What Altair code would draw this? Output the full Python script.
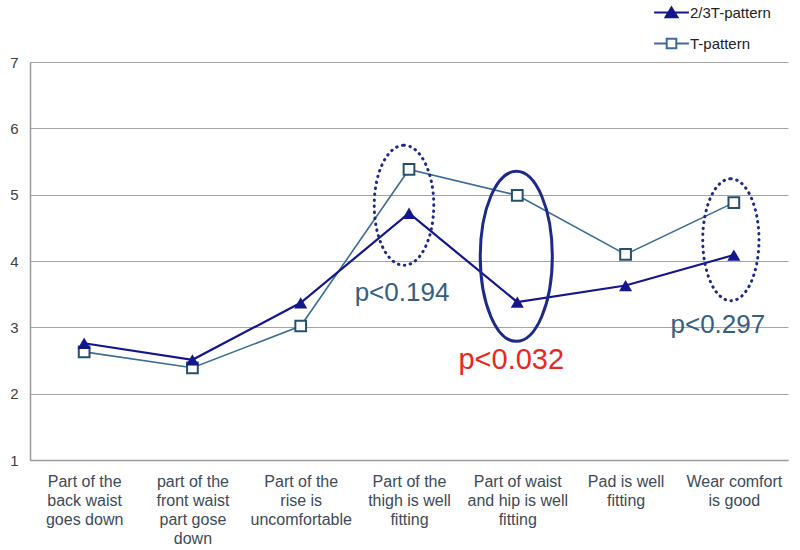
import altair as alt
import pandas as pd

# ---------------- data ----------------
categories = [
    "Part of the|back waist|goes down",
    "part of the|front waist|part gose|down",
    "Part of the|rise is|uncomfortable",
    "Part of the|thigh is well|fitting",
    "Part of waist|and hip is well|fitting",
    "Pad is well|fitting",
    "Wear comfort|is good",
]
series_names = ["2/3T-pattern", "T-pattern"]
t23_values = [2.76, 2.51, 3.37, 4.72, 3.38, 3.63, 4.09]
t_values = [2.63, 2.39, 3.02, 5.38, 4.99, 4.10, 4.88]
y_ticks = [1, 2, 3, 4, 5, 6, 7]

annot_labels = ["p<0.194", "p<0.032", "p<0.297"]
annot_cats = [categories[3], categories[4], categories[6]]
annot_values = [3.52, 2.51, 3.04]
ellipse_values = [4.84, 4.07, 4.32]

df = pd.DataFrame({
    "category": categories * 2,
    "value": t23_values + t_values,
    "series": [series_names[0]] * len(categories) + [series_names[1]] * len(categories),
})

# ---------------- styles ----------------
NAVY = "#14168C"
STEEL = "#3A6C96"
SQ_STROKE = "#24506F"
ELL = "#1E2A8A"
FONT = "Liberation Sans"

x_enc = alt.X(
    "category:N", sort=categories,
    scale=alt.Scale(type="point", padding=0.5),
    axis=alt.Axis(
        title=None, labelExpr="split(datum.label, '|')", labelAngle=0,
        labelFont=FONT, labelFontSize=16, labelLineHeight=19, labelColor="#3C4A5A",
        labelPadding=13, ticks=False, domainColor="#9A9A9A", domainWidth=1.5,
        grid=False, labelLimit=200,
    ),
)
y_enc = alt.Y(
    "value:Q", scale=alt.Scale(domain=[1, 7], nice=False, zero=False),
    axis=alt.Axis(
        title=None, values=y_ticks, labelFont=FONT, labelFontSize=15,
        labelColor="#404040", labelPadding=12, ticks=False,
        domainColor="#9A9A9A", domainWidth=1.5,
        grid=True, gridColor="#A3A3A3", gridWidth=1.2,
    ),
)

is_t23 = alt.datum.series == series_names[0]
is_t = alt.datum.series == series_names[1]

line1 = alt.Chart(df).transform_filter(is_t23).mark_line(
    color=NAVY, strokeWidth=2.2).encode(x=x_enc, y=y_enc)
line2 = alt.Chart(df).transform_filter(is_t).mark_line(
    color=STEEL, strokeWidth=1.6).encode(x=x_enc, y=y_enc)

tri = alt.Chart(df).transform_filter(is_t23).mark_point(
    shape="triangle-up", filled=True, color=NAVY, size=170, opacity=1).encode(x=x_enc, y=y_enc)

sq = alt.Chart(df).transform_filter(is_t).mark_point(
    shape="square", filled=True, fill="white", stroke=SQ_STROKE, strokeWidth=2,
    size=115, opacity=1).encode(x=x_enc, y=y_enc)

# legend-only layer (no marks drawn; explicit domains drive the legend)
tri_legend = "M -2.9,0 L 2.9,0 M 0,-0.85 L 1,0.8 L -1,0.8 Z"
sq_legend = "M -2.9,0 L -0.8,0 M 0.8,0 L 2.9,0 M -0.8,-0.8 L 0.8,-0.8 L 0.8,0.8 L -0.8,0.8 Z"
leg = alt.Legend(
    title=None, orient="none", legendX=634, legendY=-57, padding=0,
    symbolSize=144, symbolStrokeWidth=2, labelFont=FONT, labelFontSize=15,
    labelColor="#222222", labelOffset=11, rowPadding=12, symbolOpacity=1,
)
legend_layer = alt.Chart(df).transform_filter("false").mark_point(opacity=1, filled=False).encode(
    x=x_enc, y=y_enc,
    color=alt.Color("series:N", scale=alt.Scale(domain=series_names, range=[NAVY, STEEL]), legend=leg),
    fill=alt.Fill("series:N", scale=alt.Scale(domain=series_names, range=[NAVY, "white"]), legend=leg),
    shape=alt.Shape("series:N", scale=alt.Scale(domain=series_names, range=[tri_legend, sq_legend]), legend=leg),
)


def ellipse_path(r):
    k = 0.5523
    return (f"M 0,-1 C {k*r:.4f},-1 {r:.4f},{-k:.4f} {r:.4f},0 "
            f"C {r:.4f},{k:.4f} {k*r:.4f},1 0,1 "
            f"C {-k*r:.4f},1 {-r:.4f},{k:.4f} {-r:.4f},0 "
            f"C {-r:.4f},{-k:.4f} {-k*r:.4f},-1 0,-1 Z")


ell_df = pd.DataFrame({"category": annot_cats, "value": ellipse_values})
ann_df = pd.DataFrame({"category": annot_cats, "value": annot_values, "label": annot_labels})

e1 = alt.Chart(ell_df.iloc[[0]]).mark_point(
    shape=ellipse_path(0.496), size=120 ** 2, filled=False, stroke=ELL, strokeWidth=3,
    strokeDash=[0.5, 5.5], strokeCap="round", opacity=1, xOffset=-5,
).encode(x=x_enc, y=y_enc)
e2 = alt.Chart(ell_df.iloc[[1]]).mark_point(
    shape=ellipse_path(0.424), size=170 ** 2, filled=False, stroke=ELL, strokeWidth=3,
    opacity=1, xOffset=-1,
).encode(x=x_enc, y=y_enc)
e3 = alt.Chart(ell_df.iloc[[2]]).mark_point(
    shape=ellipse_path(0.461), size=122 ** 2, filled=False, stroke=ELL, strokeWidth=3,
    strokeDash=[0.5, 5.5], strokeCap="round", opacity=1, xOffset=-3,
).encode(x=x_enc, y=y_enc)

t1 = alt.Chart(ann_df.iloc[[0]]).mark_text(
    font=FONT, fontSize=26, color="#355E84", dx=-7, baseline="middle", align="center"
).encode(x=x_enc, y=y_enc, text="label:N")
t2 = alt.Chart(ann_df.iloc[[1]]).mark_text(
    font=FONT, fontSize=29, color="#E8281E", dx=-6, baseline="middle", align="center"
).encode(x=x_enc, y=y_enc, text="label:N")
t3 = alt.Chart(ann_df.iloc[[2]]).mark_text(
    font=FONT, fontSize=26, color="#355E84", dx=-16, baseline="middle", align="center"
).encode(x=x_enc, y=y_enc, text="label:N")

chart = alt.layer(
    line2, line1, sq, tri, e1, e2, e3, t1, t2, t3, legend_layer
).properties(
    width=758, height=398,
    autosize=alt.AutoSizeParams(type="none"),
    padding={"left": 30, "top": 62, "right": 12, "bottom": 90},
    background="white",
).configure_view(stroke=None)

chart.save("out.html", embed_options={"renderer": "svg", "actions": False})
